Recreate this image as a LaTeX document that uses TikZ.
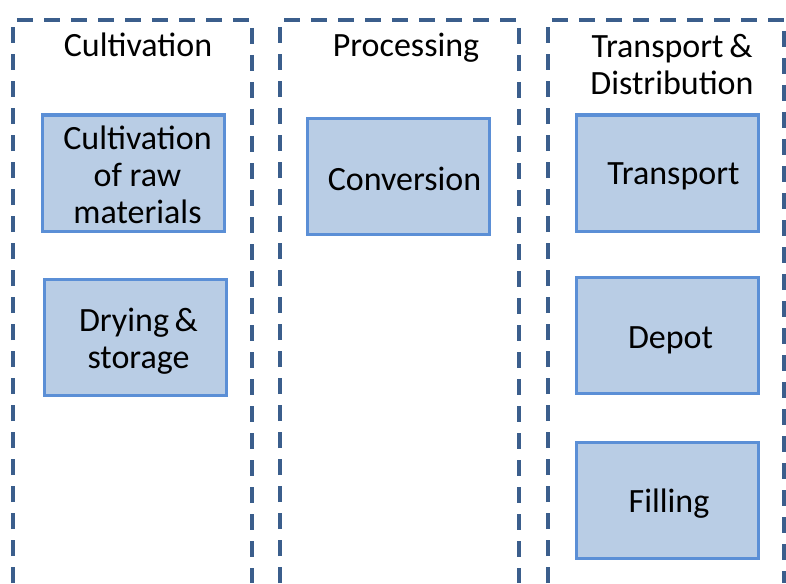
\documentclass[tikz,border=0pt]{standalone}
\usepackage{fontspec}
\setmainfont{Carlito}
\usepackage{xcolor}
\definecolor{laneblue}{HTML}{3B5E8C}
\definecolor{boxline}{HTML}{5B8FD6}
\definecolor{boxfill}{HTML}{B9CDE5}

\tikzset{
	lane/.style={laneblue, line width=2pt, dash pattern=on 8pt off 5.5pt},
	stagebox/.style={draw=boxline, fill=boxfill, line width=1.5pt,
		minimum width=91pt, minimum height=58pt, align=center,
		inner sep=0pt, font=\fontsize{17}{18.5}\selectfont},
	textdrop/.style={text depth=0pt, text height=#1},
	lanetitle/.style={align=center, inner sep=0pt, font=\fontsize{17}{18.5}\selectfont}
}

\begin{document}
\begin{tikzpicture}[x=0.5pt, y=-0.5pt]
			\def\yTOP{20};
			\def\yBOT{583};

			\useasboundingbox (0,0) rectangle (786,583);

			% lanes
			\begin{scope}
				\draw[lane] (13,\yBOT) -- (13,\yTOP) -- (252,\yTOP) -- (252,\yBOT);
				\draw[lane] (280,\yBOT) -- (280,\yTOP) -- (519,\yTOP) -- (519,\yBOT);
				\draw[lane] (548,\yBOT) -- (548,\yTOP) -- (784,\yTOP) -- (784,\yBOT);
			\end{scope}

			% titles
			\begin{scope}
				\node[lanetitle] (tcult) at (138,45) {Cultivation};
				\node[lanetitle] (tproc) at (406,47.5) {Processing};
				\node[lanetitle] (tdist) at (672,64.5) {Transport\,\&\\Distribution};
			\end{scope}

			% stages
			\begin{scope}
				\node[stagebox, textdrop=50.5pt] (raw) at (133,173) {\hspace{4.5pt}Cultivation\\\hspace{4.5pt}of raw\\\hspace{4.5pt}materials};
				\node[stagebox, textdrop=30.5pt] (dry) at (135.5,337.5) {\hspace{3pt}Drying\,\&\\\hspace{3pt}storage};
				\node[stagebox, textdrop=14pt] (conv) at (398.5,176) {\hspace{6pt}Conversion};
				\node[stagebox, textdrop=11.8pt] (trans) at (667.5,173) {\hspace{6pt}Transport};
				\node[stagebox, textdrop=12.8pt] (depot) at (667.5,335.5) {\hspace{3pt}Depot};
				\node[stagebox, textdrop=12pt] (fill) at (667,500) {\hspace{2pt}Filling};
			\end{scope}
		\end{tikzpicture}
\end{document}
